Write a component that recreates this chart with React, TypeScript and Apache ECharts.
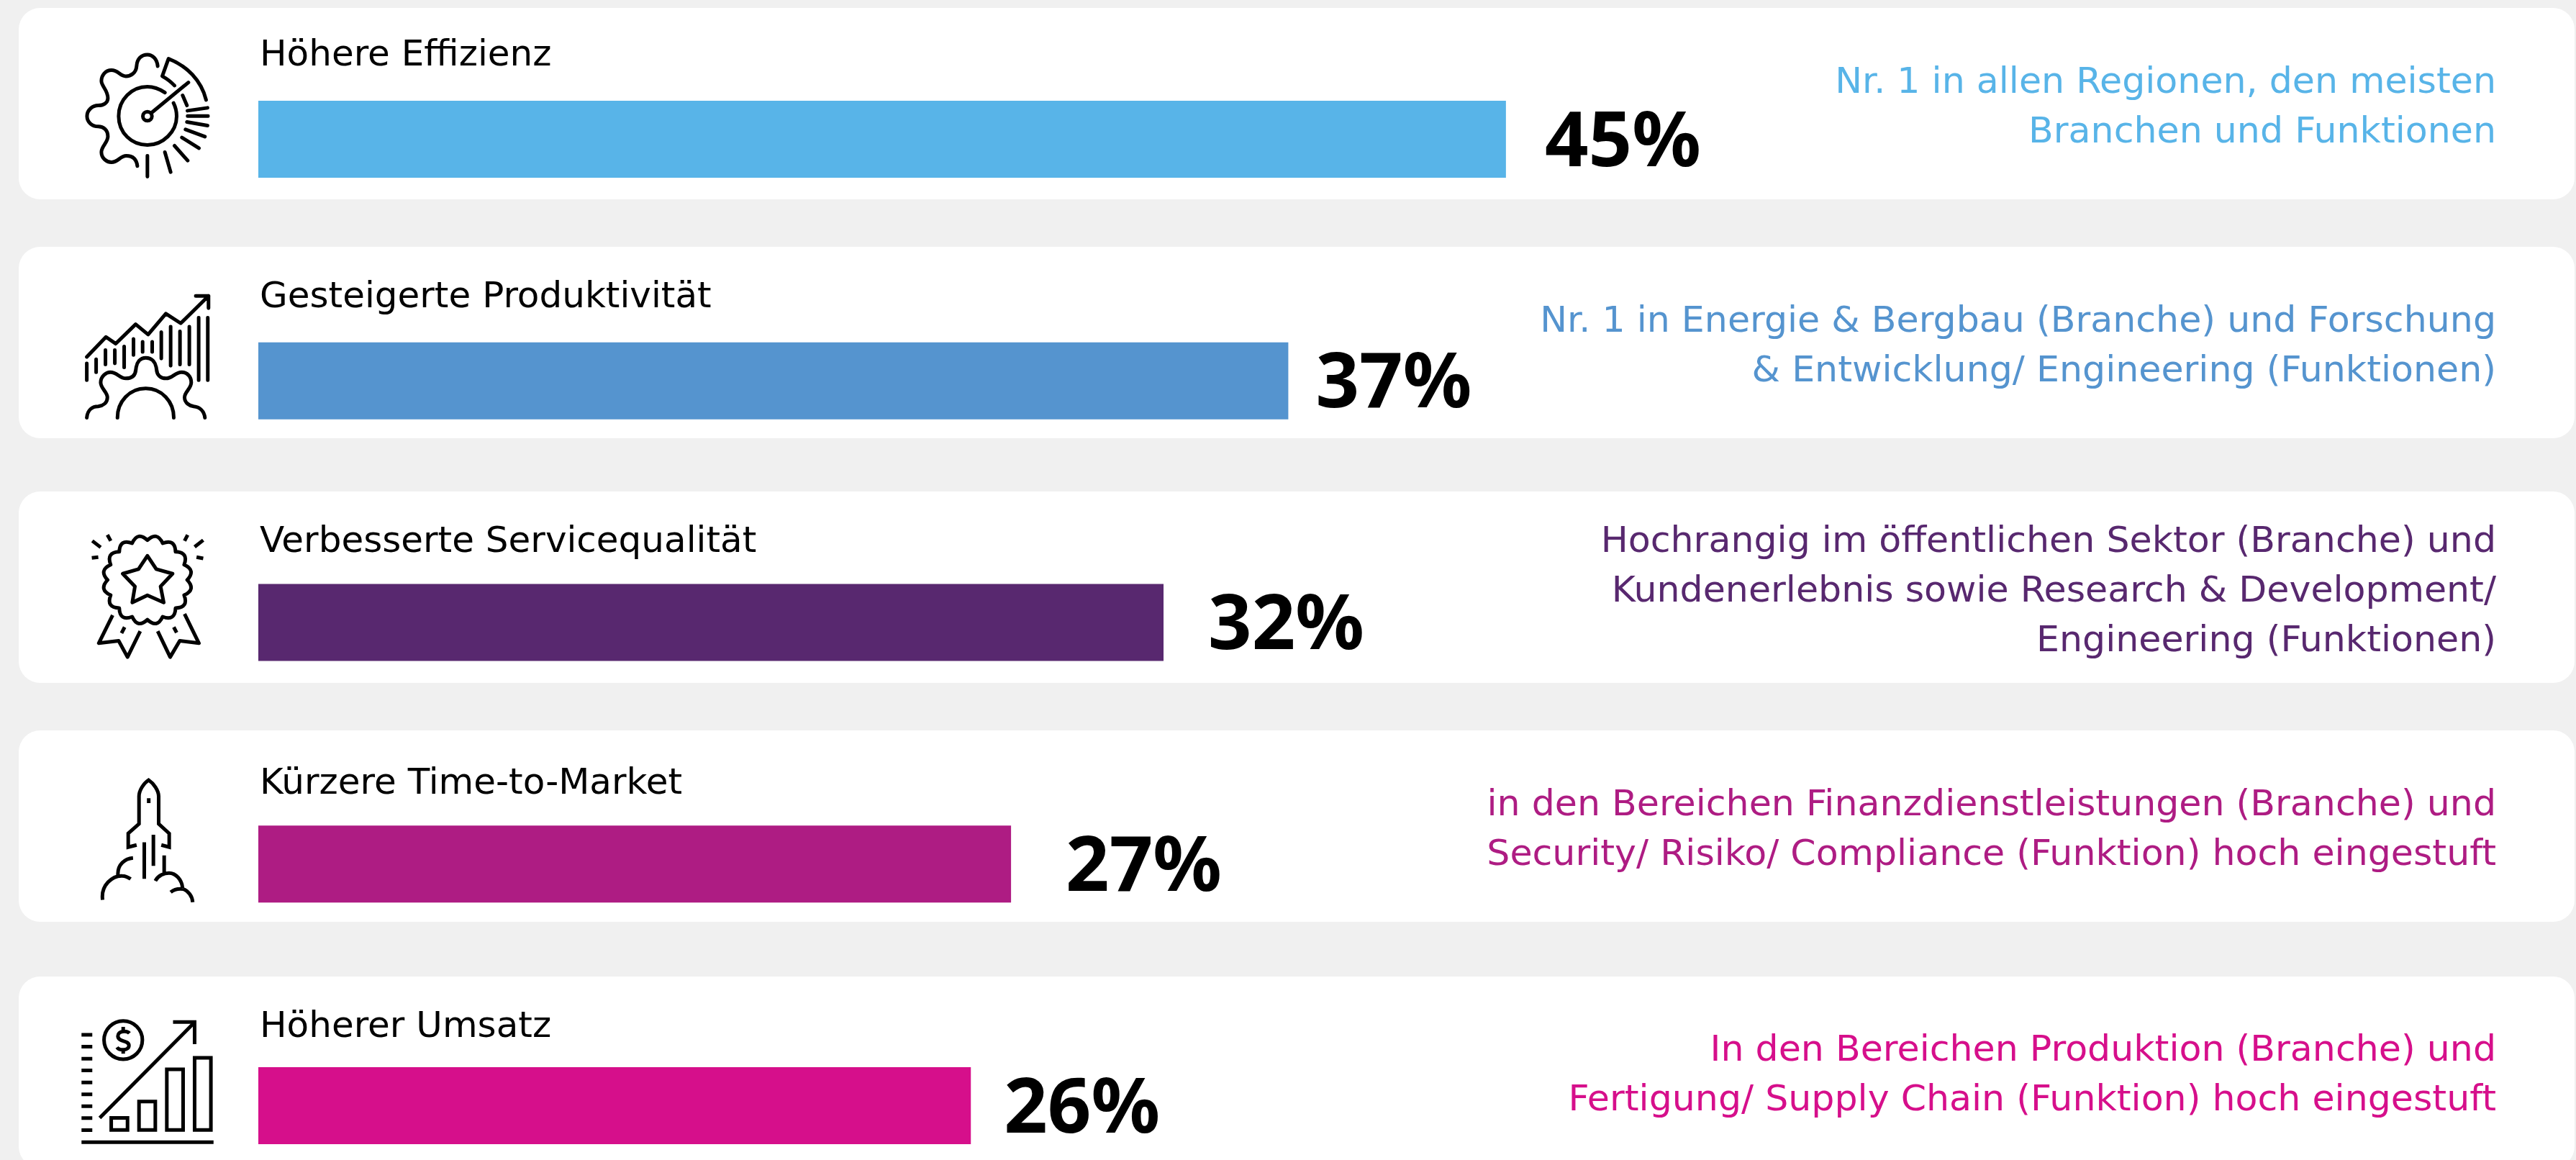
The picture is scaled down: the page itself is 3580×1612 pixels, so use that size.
import React, { useEffect, useRef } from "react";
import * as echarts from "echarts";

const categories = ["Höhere Effizienz", "Gesteigerte Produktivität", "Verbesserte Servicequalität", "Kürzere Time-to-Market", "Höherer Umsatz"];
const percentLabels = ["45%", "37%", "32%", "27%", "26%"];
const barValues = [45, 37.15, 32.65, 27.15, 25.7];
const barColors = ["#58B4E8", "#5594CF", "#58286F", "#AE1C83", "#D60F8B"];
const notes = [
  "Nr. 1 in allen Regionen, den meisten\nBranchen und Funktionen",
  "Nr. 1 in Energie & Bergbau (Branche) und Forschung\n& Entwicklung/ Engineering (Funktionen)",
  "Hochrangig im öffentlichen Sektor (Branche) und\nKundenerlebnis sowie Research & Development/\nEngineering (Funktionen)",
  "in den Bereichen Finanzdienstleistungen (Branche) und\nSecurity/ Risiko/ Compliance (Funktion) hoch eingestuft",
  "In den Bereichen Produktion (Branche) und\nFertigung/ Supply Chain (Funktion) hoch eingestuft",
];
const cardTops = [11, 343, 683, 1015, 1357];
const noteCentres = [146, 478, 818, 1150, 1491];
const percentGaps = [54, 38, 62, 76, 46];
const titleOffsets = [-91, -91, -87, -86, -84];

const FONT = "'DejaVu Sans'";

function scallop(cx: number, cy: number, vr: number, cr: number, n: number) {
  let d = "";
  for (let i = 0; i <= n; i++) {
    const a = -Math.PI / 2 + (i * 2 * Math.PI) / n;
    const x = cx + vr * Math.cos(a);
    const y = cy + vr * Math.sin(a);
    if (i === 0) d += `M ${x} ${y}`;
    else {
      const m = a - Math.PI / n;
      d += ` Q ${cx + cr * Math.cos(m)} ${cy + cr * Math.sin(m)} ${x} ${y}`;
    }
  }
  return d + " Z";
}

const icon1 =
  "M 478 186 C 475 155 455 138 435 138 C 410 138 392 155 390 185 C 388 215 365 228 345 228 C 320 228 315 203 285 203 C 260 203 243 225 243 248 C 243 270 270 285 270 320 C 270 340 250 350 230 350 C 205 350 183 370 183 395 C 183 420 205 438 230 438 C 250 438 270 450 270 480 C 270 505 243 520 243 545 C 243 570 265 587 285 587 C 315 587 320 560 347 560 C 375 560 390 575 393 603 " +
  "M 508 296 C 480 278 455 272 435 272 C 370 272 315 325 315 395 C 315 465 370 515 435 515 C 500 515 557 460 557 395 C 557 375 553 358 544 340 " +
  "M 453 380 L 606 254 M 454 395 A 19 19 0 1 1 416 395 A 19 19 0 1 1 454 395 " +
  "M 680 327 C 660 245 600 185 523 155 L 497 228 C 515 238 532 250 548 267 M 582 308 L 600 350 " +
  "M 602 372 L 686 360 M 603 394 L 688 394 M 600 419 L 686 434 M 594 450 L 675 480 M 579 484 L 650 528 M 548 518 L 603 580 M 508 545 L 532 628 M 435 560 L 435 647";
const icon2 =
  "M 182 318 L 262 235 L 303 263 L 386 182 L 438 225 L 512 138 L 574 178 L 690 64 M 637 64 L 690 64 L 690 115 " +
  "M 182 345 L 182 415 M 221 328 L 221 382 M 260 290 L 260 350 M 299 290 L 299 345 M 338 275 L 338 362 M 377 243 L 377 310 M 415 255 L 415 297 M 455 255 L 455 297 M 493 215 L 493 325 M 532 192 L 532 355 M 571 212 L 571 350 M 610 192 L 610 350 M 649 155 L 649 415 M 687 155 L 687 415 " +
  "M 182 572 C 185 540 205 525 230 525 C 250 522 268 510 268 487 C 268 465 240 450 240 425 C 240 400 262 382 280 382 C 310 382 318 408 345 408 C 370 408 385 395 387 370 C 390 340 405 322 428 322 C 455 322 470 342 473 370 C 475 395 490 408 513 408 C 540 408 550 382 578 382 C 600 382 618 400 618 425 C 618 450 590 465 590 487 C 590 510 610 522 628 525 C 655 528 672 545 675 572 " +
  "M 310 572 C 310 505 360 450 428 450 C 495 450 545 505 545 572";
const icon3 =
  "M 205 95 L 240 122 M 268 70 L 282 95 M 203 166 L 230 163 M 668 92 L 632 120 M 603 70 L 590 95 M 668 168 L 640 163 " +
  scallop(435, 258, 166, 208, 16) +
  " M 435 157 L 472 213 L 540 232 L 490 285 L 503 352 L 435 322 L 372 352 L 383 285 L 332 232 L 398 213 Z " +
  "M 290 405 L 232 522 L 315 512 L 352 580 L 405 472 M 590 400 L 650 522 L 570 512 L 530 580 L 478 472 M 340 455 L 327 480 M 545 455 L 557 478";
const icon4 =
  "M 390 343 L 355 352 L 355 295 L 400 255 L 400 140 C 400 115 420 85 440 72 C 460 85 482 115 482 140 L 482 255 L 526 295 L 526 352 L 493 343 " +
  "M 440.5 148 L 440.5 168 M 422 332 L 422 484 M 460 300 L 460 430 M 505 387 L 505 460 " +
  "M 375 397 C 340 400 310 425 312 467 M 248 572 C 240 510 290 470 330 472 C 345 472 355 478 365 485 M 468 493 C 480 470 505 460 525 460 C 555 460 580 490 582 525 M 532 540 C 550 525 570 525 585 527 C 605 535 622 555 624 582";
const icon5 =
  "M 160 138 L 205 138 M 160 188 L 205 188 M 160 238 L 205 238 M 160 287 L 205 287 M 160 337 L 205 337 M 160 387 L 205 387 M 160 436 L 205 436 M 160 486 L 205 486 M 160 536 L 205 536 M 160 586 L 711 586 " +
  "M 414 160 A 80 80 0 1 1 254 160 A 80 80 0 1 1 414 160 " +
  "M 360 132 C 350 120 310 120 312 145 C 314 170 358 160 358 183 C 358 205 318 205 308 190 M 334 105 L 334 125 M 334 195 L 334 217 " +
  "M 236 485 L 633 85 M 542 85 L 632 85 L 632 177 " +
  "M 284 485 L 352 485 L 352 535 L 284 535 Z M 400 417 L 468 417 L 468 535 L 400 535 Z M 516 282 L 584 282 L 584 535 L 516 535 Z M 632 234 L 700 234 L 700 535 L 632 535 Z";

const icons = [
  { name: "icon1", d: icon1, x: 60, y: 30, cap: "round", join: "round" },
  { name: "icon2", d: icon2, x: 60, y: 390, cap: "round", join: "round" },
  { name: "icon3", d: icon3, x: 60, y: 720, cap: "butt", join: "round" },
  { name: "icon4", d: icon4, x: 60, y: 1060, cap: "butt", join: "miter" },
  { name: "icon5", d: icon5, x: 60, y: 1392, cap: "butt", join: "miter" },
];
icons.forEach((ic) => echarts.graphic.registerShape(ic.name, echarts.graphic.extendPath(ic.d, {}) as any));

export default function App() {
  const ref = useRef<HTMLDivElement>(null);
  useEffect(() => {
    const chart = echarts.init(ref.current!, undefined, { renderer: "svg" });
    const graphics: any[] = [];
    cardTops.forEach((top) => {
      graphics.push({
        type: "rect",
        z: -10,
        shape: { x: 26, y: top, width: 3552, height: 266, r: 30 },
        style: { fill: "#ffffff" },
      });
    });
    icons.forEach((ic) => {
      graphics.push({
        type: ic.name,
        x: ic.x,
        y: ic.y,
        scaleX: 1 / 3,
        scaleY: 1 / 3,
        z: 5,
        style: { fill: "none", stroke: "#000000", lineWidth: 15, lineCap: ic.cap, lineJoin: ic.join },
      });
    });
    notes.forEach((t, i) => {
      graphics.push({
        type: "text",
        x: 3469,
        y: noteCentres[i],
        z: 5,
        style: {
          text: t,
          fill: barColors[i],
          font: `50.6px ${FONT}`,
          lineHeight: 69,
          textAlign: "right",
          textVerticalAlign: "middle",
        },
      });
    });
    chart.setOption({
      animation: false,
      backgroundColor: "#F0F0F0",
      graphic: { elements: graphics },
      grid: { left: 359, top: 193.5, width: 3000, height: 1343, containLabel: false },
      xAxis: { type: "value", min: 0, max: 77.86, show: false },
      yAxis: { type: "category", inverse: true, boundaryGap: false, data: categories, show: false },
      series: [
        {
          type: "bar",
          barWidth: 107,
          silent: true,
          clip: false,
          data: barValues.map((v, i) => ({
            value: v,
            itemStyle: { color: barColors[i] },
            label: { distance: percentGaps[i] },
          })),
          label: {
            show: true,
            position: "right",
            offset: [0, -4],
            formatter: (p: any) => percentLabels[p.dataIndex],
            fontFamily: "'Noto Sans'",
            fontWeight: "bold",
            fontSize: 106,
            color: "#000000",
          },
        },
        {
          type: "bar",
          barWidth: 107,
          barGap: "-100%",
          silent: true,
          clip: false,
          data: barValues.map((v, i) => ({
            value: v,
            label: { position: [2, titleOffsets[i]] },
          })),
          itemStyle: { color: "transparent" },
          label: {
            show: true,
            formatter: (p: any) => categories[p.dataIndex],
            fontFamily: FONT,
            fontSize: 50,
            color: "#000000",
          },
        },
      ],
    });
    return () => chart.dispose();
  }, []);
  return <div ref={ref} style={{ position: "fixed", left: 0, top: 0, width: 3580, height: 1612 }} />;
}
